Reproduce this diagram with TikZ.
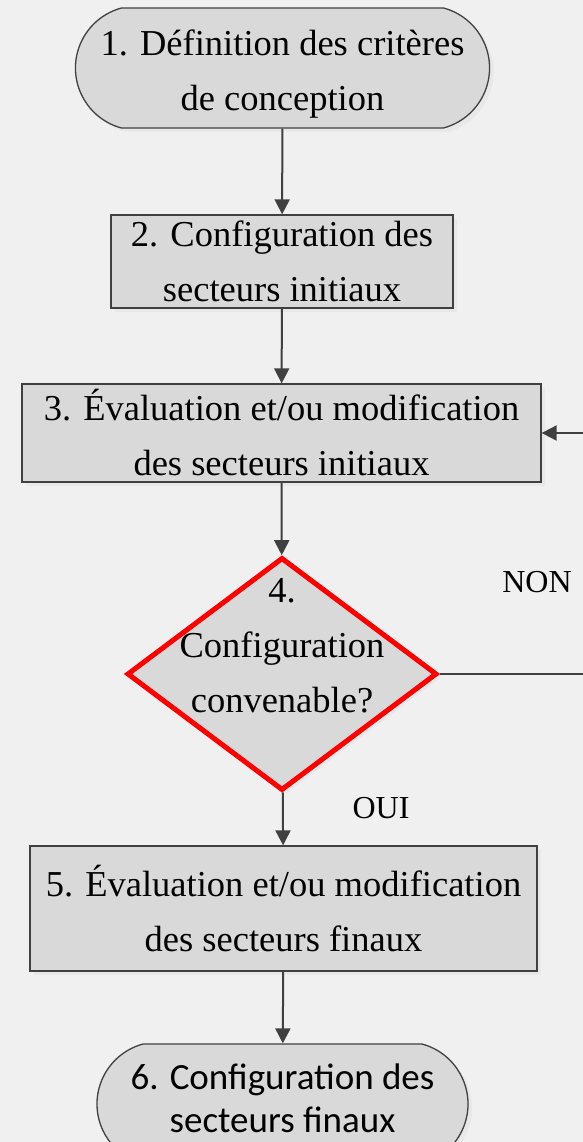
\documentclass[tikz,border=0pt]{standalone}
\usepackage{fontspec}
\setmainfont{Liberation Serif}
\newfontfamily\calfont{Carlito}
\usetikzlibrary{shapes.geometric,shapes.misc,arrows.meta,shadows}
\definecolor{bggrey}{HTML}{F0F0F0}
\definecolor{boxgrey}{HTML}{D9D9D9}
\definecolor{linegrey}{HTML}{404040}
\tikzset{
  box/.style={draw=linegrey, line width=1.3pt, fill=boxgrey, align=center, inner sep=0pt,
    font=\fontsize{36.5}{55}\selectfont,
    drop shadow={shadow xshift=4pt, shadow yshift=-4pt, fill=black!9, opacity=1}},
  term/.style={box, rounded rectangle, rounded rectangle arc length=150},
  decision/.style={box, diamond, draw=red, line width=5pt},
  arr/.style={draw=linegrey, line width=2pt, -{Triangle[length=15pt,width=15pt]}},
  lbl/.style={font=\fontsize{32}{36}\selectfont}
}
\begin{document}
\begin{tikzpicture}[x=1pt,y=-1pt]
  \useasboundingbox[fill=bggrey] (0,0) rectangle (583,1142);
  % etapes
  \node[term, minimum width=409pt, minimum height=120pt, text height=92pt] (n1) at (282.5,68) {1. Définition des critères\\de conception};
  \node[box, minimum width=342pt, minimum height=93pt] (n2) at (282,261.5) {2. Configuration des\\secteurs initiaux};
  \node[box, minimum width=519pt, minimum height=98pt] (n3) at (281.5,433) {3. Évaluation et/ou modification\\des secteurs initiaux};
  \node[decision, minimum width=310pt, minimum height=233pt] (dec) at (282,674) {};
  \node[align=center, font=\fontsize{36.5}{55}\selectfont] (dectxt) at (282,646) {4.\\Configuration\\convenable?};
  \node[box, minimum width=507pt, minimum height=125pt] (n5) at (283.5,908.5) {5. Évaluation et/ou modification\\des secteurs finaux};
  \node[term, minimum width=371pt, minimum height=120pt, text height=58pt, font=\calfont\fontsize{37}{43}\selectfont] (n6) at (282.5,1104) {6. Configuration des\\secteurs finaux};
  % liens
  \draw[arr] (n1) -- (n2);
  \draw[arr] (n2) -- (n3);
  \draw[arr] (n3) -- (dec);
  \draw[arr] (dec) -- (n5);
  \draw[arr] (n5) -- (n6);
  \draw[arr] (dec.east) -- ++(170,0) |- (n3.east);
  \node[lbl] (non) at (537,582) {NON};
  \node[lbl] (oui) at (381,808) {OUI};
\end{tikzpicture}
\end{document}
